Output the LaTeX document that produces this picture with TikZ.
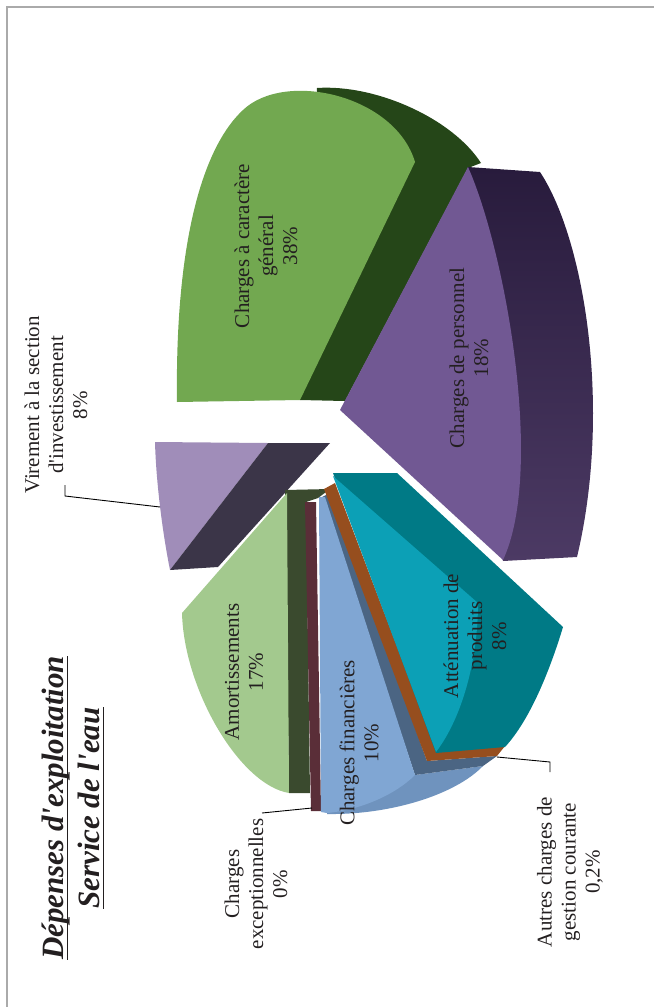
\documentclass[tikz,border=0pt]{standalone}
\usepackage{fontspec}
\setmainfont{Liberation Serif}
\usepackage{xcolor}
\usepackage{tikz}

\newsavebox{\titlebox}
\newcommand{\titleul}[1]{\sbox{\titlebox}{#1}\rlap{\usebox{\titlebox}}\rule[-5pt]{\wd\titlebox}{1.6pt}}

\definecolor{genLight}{RGB}{114,168,80}
\definecolor{genDark}{RGB}{37,70,24}
\definecolor{persLight}{RGB}{113,88,147}
\definecolor{persDarkTop}{RGB}{40,27,60}
\definecolor{persDarkBot}{RGB}{76,58,100}
\definecolor{virLight}{RGB}{160,141,185}
\definecolor{virDark}{RGB}{59,53,72}
\definecolor{amoLight}{RGB}{163,201,142}
\definecolor{amoDark}{RGB}{58,74,46}
\definecolor{excMaroon}{RGB}{90,46,56}
\definecolor{finLight}{RGB}{128,166,211}
\definecolor{finSide}{RGB}{111,147,190}
\definecolor{finBand}{RGB}{75,101,131}
\definecolor{autOrange}{RGB}{150,78,30}
\definecolor{attLight}{RGB}{12,160,182}
\definecolor{attDark}{RGB}{0,122,134}
\definecolor{lblGray}{RGB}{35,31,32}

\tikzset{
  lbl/.style={text=lblGray, rotate=90, align=center, inner sep=0pt,
    font=\fontsize{21}{24}\selectfont},
  leader/.style={draw=black, line width=0.9pt}
}

\begin{document}
\begin{tikzpicture}[x=1pt,y=1pt,yscale=-1]
\useasboundingbox (0,0) rectangle (654,1007);

%Frame
\draw [color={rgb, 255:red, 170; green, 170; blue, 170 }, line width=1.2pt] (7,1007) -- (7,7) -- (654,7);

%Charges a caractere general: side
\fill [genDark] (317,88) .. controls (375,84) and (452,118) .. (481,163) -- (468,168) -- (345,401) -- (300,400) -- cycle;
%Charges a caractere general: top
\fill [genLight] (177,402) .. controls (175,250) and (200,150) .. (243,110) .. controls (285,70) and (395,95) .. (415,162) -- (300,400) -- cycle;

%Charges de personnel: side
\shade [top color=persDarkTop, bottom color=persDarkBot] (468,167) -- (540,172) .. controls (585,240) and (612,410) .. (577,557) -- (503,561) -- (480,300) -- cycle;
%Charges de personnel: top
\fill [persLight] (468,167) .. controls (505,250) and (545,470) .. (503,560) -- (340,410) -- cycle;

%Virement: top and cut
\fill [virLight] (155,442) -- (268,443) -- (170,570) .. controls (162,530) and (156,480) .. (155,442) -- cycle;
\fill [virDark] (268,443) -- (330,443) -- (218,567) -- (170,570) -- cycle;

%Amortissements
\fill [amoDark] (285,490) -- (330,489) -- (318,498) -- (306,502) -- (310,793) -- (289,793) -- cycle;
\fill [amoLight] (287,493) -- (182,613) .. controls (184,690) and (240,785) .. (289,793) -- cycle;

%Charges exceptionnelles
\fill [excMaroon] (305,502) -- (316,502) -- (321,811) -- (311,811) -- cycle;

%Charges financieres
\fill [finSide] (415,775) -- (483,766) .. controls (455,795) and (390,815) .. (327,814) -- (330,800) -- cycle;
\fill [finBand] (322,497) -- (330,493) -- (427,761) -- (497,756) -- (483,766) -- (415,775) -- cycle;
\fill [finLight] (319,497) -- (325,497) -- (415,775) .. controls (395,795) and (360,810) .. (327,813) -- (321,812) -- cycle;

%Autres charges de gestion courante
\fill [autOrange] (324,489) -- (335,483) -- (437,752) -- (505,746) -- (497,756) -- (427,761) -- cycle;

%Attenuation de produits
\fill [attDark] (333,473) -- (397,473) -- (563,627) .. controls (550,670) and (530,720) .. (505,747) -- (436,753) -- cycle;
\fill [attLight] (333,476) -- (478,603) .. controls (478,660) and (462,718) .. (436,752) -- cycle;

% Text Node
\node [lbl] (lblGen) at (266,246) {Charges à caractère\\général\\38\%};
% Text Node
\node [lbl] (lblPers) at (469,358) {Charges de personnel\\18\%};
% Text Node
\node [lbl] (lblVir) at (56,405) {Virement à la section\\d\textquotesingle investissement\\8\%};
% Text Node
\node [lbl] (lblAmo) at (244,672) {Amortissements\\17\%};
% Text Node
\node [lbl] (lblFin) at (359,743) {Charges financières\\10\%};
% Text Node
\node [lbl] (lblAtt) at (475,636) {Atténuation de\\produits\\8\%};
% Text Node
\node [lbl] (lblExc) at (256,884) {Charges\\exceptionnelles\\0\%};
% Text Node
\node [lbl] (lblAut) at (570,872) {Autres charges de\\gestion courante\\0,2\%};
% Title
\node [text=lblGray, rotate=90, align=center, inner sep=0pt, font=\fontsize{31}{36}\selectfont\bfseries\itshape] (title) at (73,808) {\titleul{Dépenses d\textquotesingle exploitation}\\\titleul{Service de l\textquotesingle eau}};

%Leaders
\coordinate (virTip) at (160,507);
\coordinate (virEnd) at (65,485);
\draw [leader] (virTip) -- (65,496) -- (virEnd);
\coordinate (excTip) at (312,808);
\coordinate (excEnd) at (262,813);
\draw [leader] (excTip) -- (excEnd);
\coordinate (autTip) at (497,757);
\coordinate (autEnd) at (550,772);
\draw [leader] (autTip) -- (550,762) -- (autEnd);

\end{tikzpicture}
\end{document}
